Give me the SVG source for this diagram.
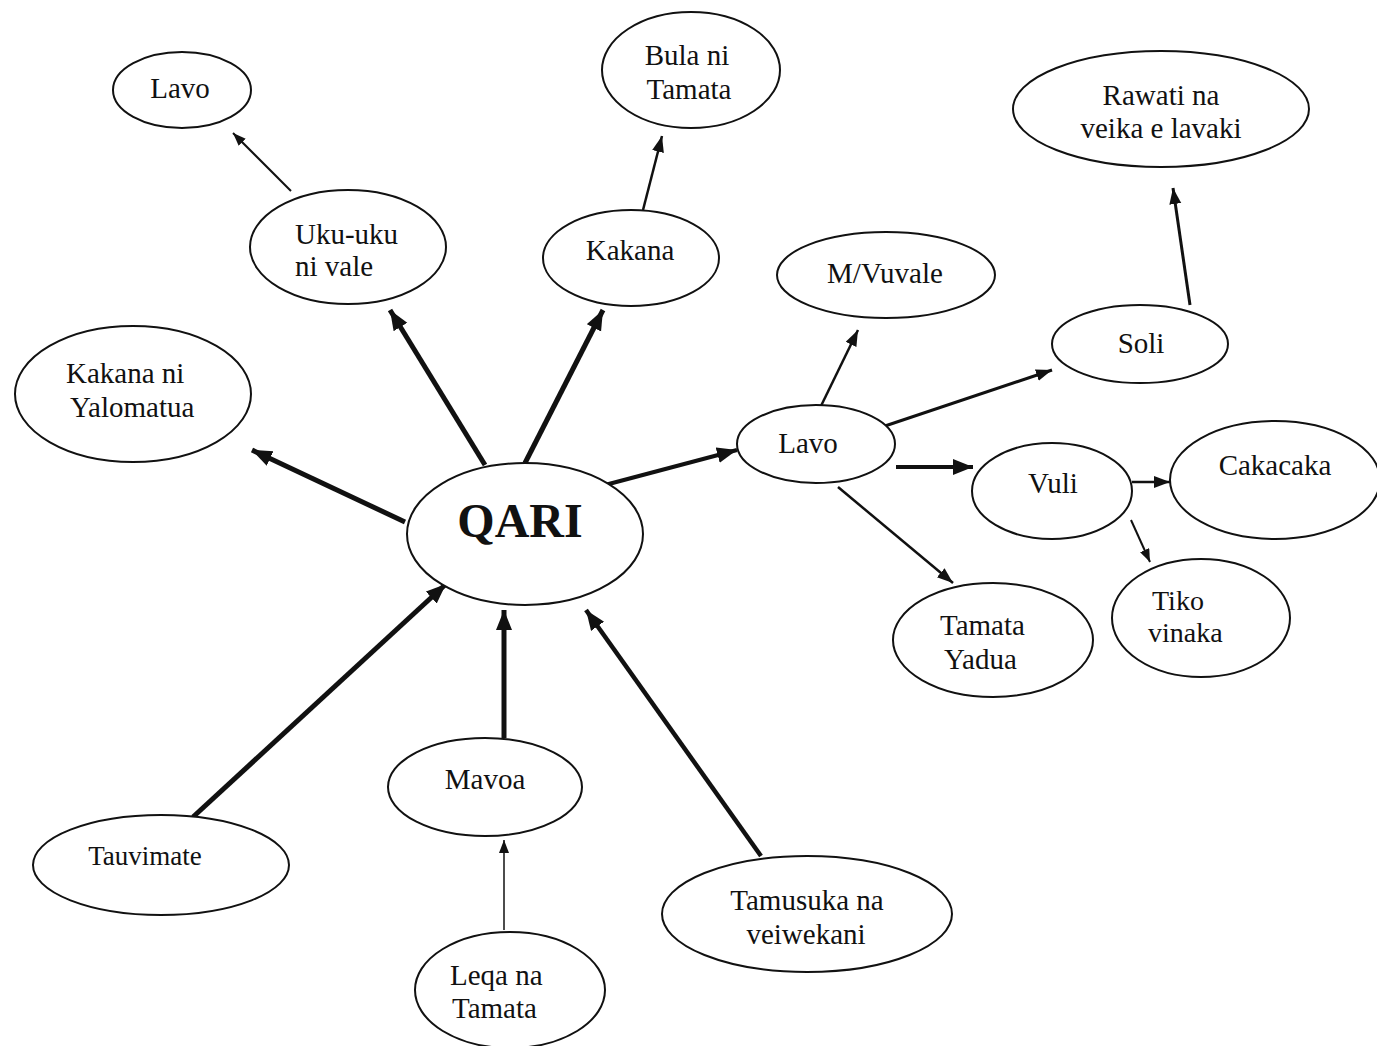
<svg xmlns="http://www.w3.org/2000/svg" width="1377" height="1046" viewBox="0 0 1377 1046">
<style>
.n ellipse{fill:#fff;stroke:#111;stroke-width:2}
text{font-family:"Liberation Serif","Times New Roman",serif;font-size:29px;fill:#111}
.c{text-anchor:middle}
.q{font-size:48px;font-weight:bold}
.e line{stroke:#111;fill:none}
</style>
<defs>
<marker id="ab" markerUnits="userSpaceOnUse" markerWidth="22" markerHeight="18" refX="20" refY="8" orient="auto"><path d="M0,0 L20,8 L0,16 Z" fill="#111"/></marker>
<marker id="am" markerUnits="userSpaceOnUse" markerWidth="18" markerHeight="14" refX="16" refY="6" orient="auto"><path d="M0,0 L16,6 L0,12 Z" fill="#111"/></marker>
<marker id="as" markerUnits="userSpaceOnUse" markerWidth="15" markerHeight="12" refX="13" refY="5" orient="auto"><path d="M0,0 L13,5 L0,10 Z" fill="#111"/></marker>
</defs>
<rect width="1377" height="1046" fill="#fff"/>
<g class="e" id="connectors">
<line x1="291" y1="191" x2="233" y2="133" stroke-width="2" marker-end="url(#as)"/>
<line x1="643" y1="210" x2="662" y2="136" stroke-width="2.5" marker-end="url(#am)"/>
<line x1="1190" y1="305" x2="1173" y2="188" stroke-width="3" marker-end="url(#am)"/>
<line x1="485" y1="465" x2="390" y2="310" stroke-width="5" marker-end="url(#ab)"/>
<line x1="525" y1="463" x2="603" y2="310" stroke-width="5" marker-end="url(#ab)"/>
<line x1="405" y1="522" x2="252" y2="450" stroke-width="5" marker-end="url(#ab)"/>
<line x1="605" y1="485" x2="737" y2="450" stroke-width="4" marker-end="url(#ab)"/>
<line x1="820" y1="408" x2="858" y2="330" stroke-width="2.5" marker-end="url(#am)"/>
<line x1="876" y1="429" x2="1052" y2="370" stroke-width="3" marker-end="url(#am)"/>
<line x1="896" y1="467" x2="973" y2="467" stroke-width="4" marker-end="url(#ab)"/>
<line x1="838" y1="487" x2="953" y2="583" stroke-width="2.5" marker-end="url(#am)"/>
<line x1="1132" y1="482" x2="1170" y2="482" stroke-width="2.5" marker-end="url(#am)"/>
<line x1="1131" y1="520" x2="1150" y2="562" stroke-width="2" marker-end="url(#as)"/>
<line x1="193" y1="817" x2="446" y2="584" stroke-width="5" marker-end="url(#ab)"/>
<line x1="504" y1="738" x2="504" y2="610" stroke-width="5" marker-end="url(#ab)"/>
<line x1="504" y1="930" x2="504" y2="840" stroke-width="1.5" marker-end="url(#as)"/>
<line x1="761" y1="856" x2="586" y2="610" stroke-width="4.5" marker-end="url(#ab)"/>
</g>
<g class="n" id="n-lavo1"><ellipse cx="182" cy="90" rx="69" ry="38"/><text class="c" x="180" y="98">Lavo</text></g>
<g class="n" id="n-bula"><ellipse cx="691" cy="70" rx="89" ry="58"/><text class="c" x="687" y="65">Bula ni</text><text class="c" x="689" y="99">Tamata</text></g>
<g class="n" id="n-rawati"><ellipse cx="1161" cy="109" rx="148" ry="58"/><text class="c" x="1161" y="105">Rawati na</text><text class="c" x="1161" y="138">veika e lavaki</text></g>
<g class="n" id="n-uku"><ellipse cx="348" cy="247" rx="98" ry="57"/><text x="295" y="244">Uku-uku</text><text x="295" y="276">ni vale</text></g>
<g class="n" id="n-kakana"><ellipse cx="631" cy="258" rx="88" ry="48"/><text class="c" x="630" y="260">Kakana</text></g>
<g class="n" id="n-mvuvale"><ellipse cx="886" cy="275" rx="109" ry="43"/><text class="c" x="885" y="283">M/Vuvale</text></g>
<g class="n" id="n-soli"><ellipse cx="1140" cy="344" rx="88" ry="39"/><text class="c" x="1141" y="353">Soli</text></g>
<g class="n" id="n-kny"><ellipse cx="133" cy="394" rx="118" ry="68"/><text x="66" y="383">Kakana ni</text><text x="70" y="417">Yalomatua</text></g>
<g class="n" id="n-qari"><ellipse cx="525" cy="534" rx="118" ry="71"/><text class="c q" x="520" y="537">QARI</text></g>
<g class="n" id="n-lavo2"><ellipse cx="816" cy="444" rx="79" ry="39"/><text class="c" x="808" y="453">Lavo</text></g>
<g class="n" id="n-vuli"><ellipse cx="1052" cy="491" rx="80" ry="48"/><text class="c" x="1053" y="493">Vuli</text></g>
<g class="n" id="n-cakacaka"><ellipse cx="1275" cy="480" rx="105" ry="59"/><text class="c" x="1275" y="475">Cakacaka</text></g>
<g class="n" id="n-tamatayadua"><ellipse cx="993" cy="640" rx="100" ry="57"/><text x="940" y="635">Tamata</text><text x="944" y="669">Yadua</text></g>
<g class="n" id="n-tiko"><ellipse cx="1201" cy="618" rx="89" ry="59"/><text x="1152" y="610" style="font-size:28px">Tiko</text><text x="1148" y="642" style="font-size:28px">vinaka</text></g>
<g class="n" id="n-mavoa"><ellipse cx="485" cy="787" rx="97" ry="49"/><text class="c" x="485" y="789">Mavoa</text></g>
<g class="n" id="n-tauvimate"><ellipse cx="161" cy="865" rx="128" ry="50"/><text class="c" x="145" y="865" style="font-size:27px">Tauvimate</text></g>
<g class="n" id="n-tamusuka"><ellipse cx="807" cy="914" rx="145" ry="58"/><text class="c" x="807" y="910">Tamusuka na</text><text class="c" x="806" y="944">veiwekani</text></g>
<g class="n" id="n-leqa"><ellipse cx="510" cy="990" rx="95" ry="58"/><text x="450" y="985">Leqa na</text><text x="452" y="1018">Tamata</text></g>
</svg>
